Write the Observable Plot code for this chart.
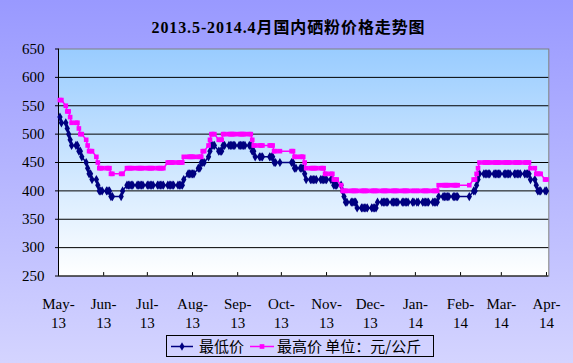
<!DOCTYPE html>
<html><head><meta charset="utf-8">
<script src="https://cdn.jsdelivr.net/npm/d3@7"></script>
<script src="https://cdn.jsdelivr.net/npm/@observablehq/plot@0.6"></script>
<style>
html,body{margin:0;padding:0;background:#fff;}
#chart{position:relative;width:573px;height:363px;overflow:hidden;background:linear-gradient(to bottom,#9999ff 0%,#d4d4ff 100%);}
#chart svg{position:absolute;left:0;top:0;}
#title{position:absolute;left:2px;width:573px;top:19px;text-align:center;font-weight:bold;font-size:16px;letter-spacing:0.9px;font-family:"Liberation Serif","Noto Sans CJK SC",serif;line-height:18px;color:#000;}
</style></head><body>
<div id="chart"><div id="title">2013.5-2014.4月国内硒粉价格走势图</div></div>
<script>
// ---- data ----
const monthTicks = ["2013-05-01","2013-06-01","2013-07-01","2013-08-01","2013-09-01","2013-10-01","2013-11-01","2013-12-01","2014-01-01","2014-02-01","2014-03-01","2014-04-01"];
const monthLabels = ["May-\n13","Jun-\n13","Jul-\n13","Aug-\n13","Sep-\n13","Oct-\n13","Nov-\n13","Dec-\n13","Jan-\n14","Feb-\n14","Mar-\n14","Apr-\n14"];
const yTicks = [250,300,350,400,450,500,550,600,650];
// non-trading weekdays (Chinese public holidays)
const holidays = ["2013-06-10","2013-06-11","2013-06-12","2013-09-19","2013-09-20","2013-10-01","2013-10-02","2013-10-03","2013-10-04","2013-10-07","2014-01-01","2014-01-31","2014-02-03","2014-02-04","2014-02-05","2014-02-06"];
const firstDay = "2013-05-02";
const lastDay = "2014-04-01";
// price changes: [date from which the price holds, 元/公斤]
const lowChanges = [
 ["2013-05-02",530],["2013-05-03",520],["2013-05-07",510],["2013-05-08",500],["2013-05-09",490],
 ["2013-05-10",480],["2013-05-15",470],["2013-05-17",460],["2013-05-20",450],["2013-05-21",440],
 ["2013-05-22",430],["2013-05-24",420],["2013-05-28",410],["2013-05-29",400],["2013-06-06",390],
 ["2013-06-14",400],["2013-06-17",410],["2013-07-26",420],["2013-07-29",430],["2013-08-05",440],
 ["2013-08-07",450],["2013-08-12",460],["2013-08-13",470],["2013-08-14",480],["2013-08-19",470],
 ["2013-08-22",480],["2013-09-11",470],["2013-09-13",460],["2013-09-26",450],["2013-10-10",440],
 ["2013-10-17",430],["2013-10-18",420],["2013-11-06",410],["2013-11-12",400],["2013-11-13",390],
 ["2013-11-14",380],["2013-11-22",370],["2013-12-06",380],["2014-01-17",390],["2014-02-10",400],
 ["2014-02-12",410],["2014-02-13",420],["2014-02-14",430],["2014-03-21",420],["2014-03-25",410],
 ["2014-03-26",400]
];
const highChanges = [
 ["2013-05-02",560],["2013-05-06",550],["2013-05-07",540],["2013-05-09",530],["2013-05-10",520],
 ["2013-05-15",510],["2013-05-16",500],["2013-05-20",490],["2013-05-21",480],["2013-05-22",470],
 ["2013-05-27",460],["2013-05-28",450],["2013-05-29",440],["2013-06-06",430],["2013-06-17",440],
 ["2013-07-15",450],["2013-07-26",460],["2013-08-08",470],["2013-08-12",480],["2013-08-13",490],
 ["2013-08-14",500],["2013-08-19",490],["2013-08-22",500],["2013-09-11",490],["2013-09-12",480],
 ["2013-09-26",470],["2013-10-10",460],["2013-10-17",450],["2013-10-18",440],["2013-10-31",430],
 ["2013-11-06",420],["2013-11-11",410],["2013-11-12",400],["2014-01-17",410],["2014-02-10",420],
 ["2014-02-12",430],["2014-02-13",440],["2014-02-14",450],["2014-03-21",440],["2014-03-25",430],
 ["2014-03-31",420]
];
const seriesNames = ["最低价","最高价"];
const unitText = "单位：元/公斤";
const colors = ["#000080","#ff00ff"];

// ---- build daily (trading day) table ----
const parse = s => new Date(s + "T00:00:00Z");
const holidaySet = new Set(holidays);
const days = d3.utcDay.range(parse(firstDay), d3.utcDay.offset(parse(lastDay), 1))
  .filter(d => d.getUTCDay() > 0 && d.getUTCDay() < 6 && !holidaySet.has(d3.utcFormat("%Y-%m-%d")(d)));
function priceOn(changes, d) {
  const dates = changes.map(c => parse(c[0]));
  const i = d3.bisectRight(dates, d) - 1;
  return changes[Math.max(0, i)][1];
}
const rows = [];
for (const d of days) {
  rows.push({date: d, price: priceOn(lowChanges, d), series: seriesNames[0]});
}
for (const d of days) {
  rows.push({date: d, price: priceOn(highChanges, d), series: seriesNames[1]});
}
const low = rows.filter(r => r.series === seriesNames[0]);
const high = rows.filter(r => r.series === seriesNames[1]);

const tickDates = monthTicks.map(parse);
const labelOf = new Map(tickDates.map((d, i) => [+d, monthLabels[i]]));

const W = 573, H = 363;
const svg = Plot.plot({
  width: W, height: H,
  marginLeft: 58, marginRight: 24.7, marginTop: 48.5, marginBottom: 87.5,
  x: {type: "utc", domain: [parse("2013-05-01"), new Date("2014-04-02T14:00:00Z")], axis: null},
  y: {domain: [250, 650], axis: null},
  style: {background: "transparent", fontFamily: "'Liberation Serif', serif", color: "#000", overflow: "visible"},
  marks: [
    Plot.frame({fill: "url(#plotGrad)", stroke: "#808080", strokeWidth: 1}),
    Plot.ruleY(yTicks.filter(v => v > 250 && v < 650), {stroke: "#000", strokeWidth: 1}),
    Plot.ruleY([250], {stroke: "#000", strokeWidth: 1}),
    Plot.ruleX([parse("2013-05-01")], {stroke: "#000", strokeWidth: 1}),
    Plot.ruleX(tickDates, {y1: 250, y2: 256, stroke: "#000"}),
    Plot.axisY({ticks: yTicks, tickSize: 3, tickPadding: 11, fontSize: 15, label: null, tickFormat: d => String(d), fill: "#000"}),
    Plot.axisX({ticks: tickDates, tickSize: 0, tickPadding: 19, fontSize: 15, lineHeight: 1.27, label: null, tickFormat: d => labelOf.get(+d), fill: "#000"}),
    Plot.line(low, {x: "date", y: "price", stroke: colors[0], strokeWidth: 1.5}),
    Plot.dot(low, {x: "date", y: "price", symbol: "diamond", r: 2.8, fill: colors[0], stroke: "none"}),
    Plot.line(high, {x: "date", y: "price", stroke: colors[1], strokeWidth: 1.5}),
    Plot.dot(high, {x: "date", y: "price", symbol: "square", r: 2.6, fill: colors[1], stroke: "none"})
  ]
});
// plot-area gradient
const defs = d3.select(svg).insert("defs", ":first-child");
const g = defs.append("linearGradient").attr("id", "plotGrad").attr("x1", 0).attr("y1", 0).attr("x2", 0).attr("y2", 1);
g.append("stop").attr("offset", "0%").attr("stop-color", "#99ccff");
g.append("stop").attr("offset", "100%").attr("stop-color", "#ffffff");
document.getElementById("chart").appendChild(svg);

// legend (below the plot, inside the chart area)
const leg = d3.select("#chart").append("svg")
  .attr("width", 270).attr("height", 24)
  .style("left", "165px").style("top", "335px").style("position", "absolute");
leg.append("rect").attr("x", 1.5).attr("y", 0.5).attr("width", 267).attr("height", 21).attr("fill", "none").attr("stroke", "#000");
const items = [
  {x0: 6, x1: 28, tx: 34, label: seriesNames[0], color: colors[0], sym: d3.symbolDiamond},
  {x0: 85, x1: 109, tx: 112, label: seriesNames[1] + " " + unitText, color: colors[1], sym: d3.symbolSquare}
];
for (const it of items) {
  leg.append("line").attr("x1", it.x0).attr("x2", it.x1).attr("y1", 11.5).attr("y2", 11.5).attr("stroke", it.color).attr("stroke-width", 1.5);
  leg.append("path").attr("d", d3.symbol(it.sym, 22)()).attr("transform", `translate(${(it.x0 + it.x1) / 2},11.5)`).attr("fill", it.color);
  leg.append("text").attr("x", it.tx).attr("y", 16.5).attr("font-size", 15).attr("font-family", "'Noto Sans CJK SC', sans-serif").attr("fill", "#000").text(it.label);
}
</script>
</body></html>
